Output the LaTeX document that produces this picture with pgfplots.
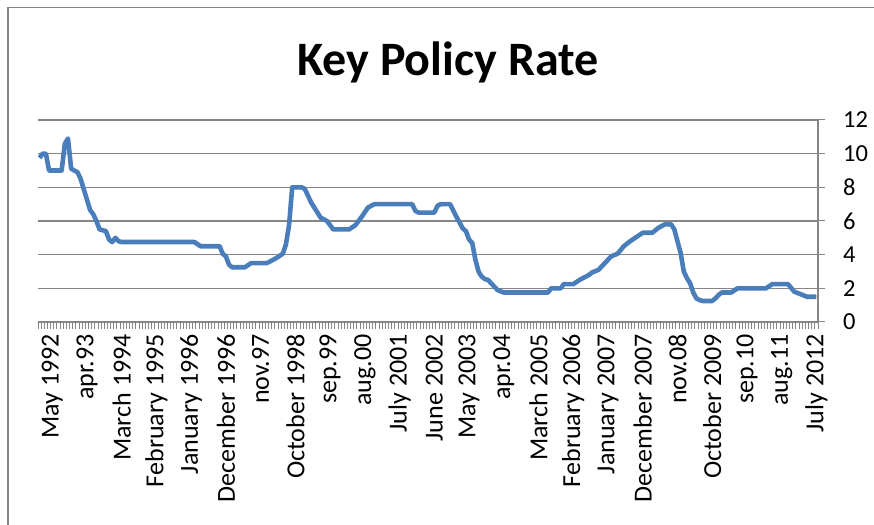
\documentclass[border=0pt]{standalone}
\usepackage{pgfplots}
\pgfplotsset{compat=1.18}
\usepackage{fontspec}
\setmainfont{Carlito}
\definecolor{lineblue}{HTML}{4A7EBB}
\definecolor{axgray}{HTML}{868686}
\begin{document}
\begin{tikzpicture}
\path[use as bounding box] (0,0) rectangle (874bp,525bp);
\draw[axgray, line width=1.5bp] (8bp,0) -- (8bp,517.5bp) -- (874bp,517.5bp);
\node[font=\fontsize{48bp}{56bp}\selectfont\bfseries] at (448bp,463bp) {Key Policy Rate};
\begin{axis}[
  at={(38bp,203bp)}, anchor=south west,
  scale only axis, width=780bp, height=202bp,
  xmin=-0.5, xmax=246.5, ymin=0, ymax=12,
  axis x line*=bottom, axis y line*=right,
  axis line style={axgray, line width=1.3bp},
  ytick={0,2,...,12},
  ymajorgrids, grid style={axgray, line width=1.3bp},
  xtick={-0.5,0.5,...,246.5},
  xticklabels={},
  extra x ticks={4,15,...,246},
  extra x tick labels={May 1992, apr.93, March 1994, February 1995, January 1996, December 1996, nov.97, October 1998, sep.99, aug.00, July 2001, June 2002, May 2003, apr.04, March 2005, February 2006, January 2007, December 2007, nov.08, October 2009, sep.10, aug.11, July 2012},
  extra x tick style={major tick length=0pt, grid=none},
  tick align=outside,
  major tick length=7bp,
  tick style={axgray, line width=1bp},
  /pgf/number format/assume math mode=true,
  xticklabel style={rotate=90, anchor=east, inner sep=0pt, font=\fontsize{26bp}{30bp}\selectfont},
  xticklabel shift=12bp,
  yticklabel style={anchor=west, inner sep=0pt, font=\fontsize{24.5bp}{29bp}\selectfont},
  yticklabel shift=18bp,
]
\addplot[lineblue, line width=4.6bp, line join=round, no markers] coordinates {
(0,9.75)(1,10)(2,10)(3,9)(7,9)(8,10.6)(9,10.9)(10,9.1)(11,9.0)(12,8.9)(13,8.5)
(16,6.65)(17,6.4)(18,6.0)(19,5.5)(21,5.4)(22,4.9)(23,4.75)(24,5.0)(25,4.8)(26,4.75)
(49,4.75)(51,4.5)(57,4.5)(58,4.05)(59,3.9)(60,3.4)(61,3.25)(65,3.25)(67,3.5)(72,3.5)
(75,3.8)(77,4.05)(78,4.6)(79,5.75)(80,8.0)(83,8.0)(84,7.9)(85,7.5)(86,7.1)(87,6.8)
(89,6.2)(91,6.0)(92,5.75)(93,5.5)(98,5.5)(100,5.75)(102,6.25)(104,6.8)(106,7.0)
(118,7.0)(119,6.6)(120,6.5)(125,6.5)(126,6.9)(127,7.0)(130,7.0)(132,6.25)(134,5.56)
(135,5.4)(136,4.9)(137,4.7)(138,3.7)(139,3.0)(140,2.7)(141,2.55)(142,2.5)(143,2.3)
(145,1.9)(147,1.75)(161,1.75)(162,2.0)(165,2.0)(166,2.25)(169,2.25)(171,2.5)(172,2.6)
(174,2.8)(175,2.95)(177,3.1)(179,3.5)(181,3.9)(183,4.05)(185,4.5)(187,4.8)(189,5.05)
(191,5.3)(194,5.3)(196,5.6)(198,5.8)(200,5.8)(201,5.5)(202,4.8)(203,4.1)(204,3.0)
(205,2.6)(206,2.3)(207,1.75)(208,1.4)(209,1.3)(210,1.25)(213,1.25)(214,1.4)(215,1.6)
(216,1.75)(219,1.75)(221,2.0)(230,2.0)(232,2.25)(237,2.25)(239,1.8)(241,1.65)
(243,1.5)(246,1.5)
};
\end{axis}
\end{tikzpicture}
\end{document}
